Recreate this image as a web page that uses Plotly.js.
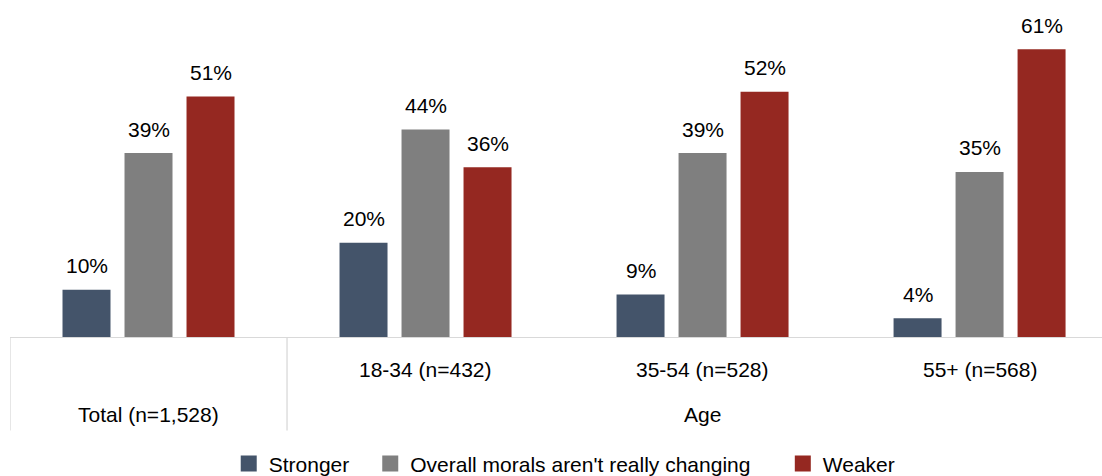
<!DOCTYPE html>
<html>
<head>
<meta charset="utf-8">
<script src="https://cdn.plot.ly/plotly-3.0.1.min.js"></script>
<style>
  html, body { margin: 0; padding: 0; background: #ffffff; }
  #chart { width: 1102px; height: 476px; }
</style>
</head>
<body>
<div id="chart"></div>
<script>
// Groups along the x axis
const categories = ['Total (n=1,528)', '18-34 (n=432)', '35-54 (n=528)', '55+ (n=568)'];
// Labels printed under each group (first row: age bands, second row: group names)
const rowOneLabels = ['', '18-34 (n=432)', '35-54 (n=528)', '55+ (n=568)'];
const rowTwoLabels = [
  { text: 'Total (n=1,528)', at: 0 },
  { text: 'Age', at: 2 }
];

// Series values (%)
const seriesNames = ['Stronger', "Overall morals aren't really changing", 'Weaker'];
const stronger = [10, 20, 9, 4];
const notChanging = [39, 44, 39, 35];
const weaker = [51, 36, 52, 61];
const seriesValues = [stronger, notChanging, weaker];
const seriesColors = ['#44546A', '#7F7F7F', '#952821'];

const FONT = 'Liberation Sans, Arial, sans-serif';
const FONT_SIZE = 21;
const GRID = '#D9D9D9';

// One legend per series so each key sits at its own spot along the bottom
const legendIds = ['legend', 'legend2', 'legend3'];
const legendX = [0.2003, 0.3299, 0.7077];

const traces = seriesValues.map((vals, s) => ({
  type: 'bar',
  name: seriesNames[s],
  x: categories,
  y: vals,
  marker: { color: seriesColors[s] },
  showlegend: false,
  hoverinfo: 'skip'
}));

// Legend keys: square swatches in each series colour
seriesNames.forEach((name, s) => {
  traces.push({
    type: 'scatter',
    mode: 'markers',
    name: name,
    x: [null],
    y: [null],
    marker: { symbol: 'square', size: 16, color: seriesColors[s] },
    legend: legendIds[s],
    showlegend: true,
    hoverinfo: 'skip'
  });
});

// Value labels above each bar, offset to each bar's slot within the group
const SLOT = 62;
const annotations = [];
seriesValues.forEach((vals, s) => {
  vals.forEach((v, i) => {
    annotations.push({
      x: categories[i], y: v, xref: 'x', yref: 'y',
      text: v + '%', showarrow: false,
      xshift: (s - 1) * SLOT, yshift: 24,
      yanchor: 'middle',
      font: { family: FONT, size: FONT_SIZE, color: '#000000' }
    });
  });
});

// Category table text below the axis
rowOneLabels.forEach((t, i) => {
  if (!t) return;
  annotations.push({
    x: categories[i], y: -0.102, xref: 'x', yref: 'paper',
    text: t, showarrow: false, yanchor: 'middle',
    font: { family: FONT, size: FONT_SIZE, color: '#000000' }
  });
});
rowTwoLabels.forEach(r => {
  annotations.push({
    x: categories[r.at], y: -0.244, xref: 'x', yref: 'paper',
    text: r.text, showarrow: false, yanchor: 'middle',
    font: { family: FONT, size: FONT_SIZE, color: '#000000' }
  });
});

// Vertical separators of the category table
const shapes = [-0.5, 0.5].map(xv => ({
  type: 'line', xref: 'x', yref: 'paper',
  x0: xv, x1: xv, y0: 0, y1: -0.295,
  line: { color: GRID, width: 1.3 }
}));

const layout = {
  width: 1102,
  height: 476,
  margin: { l: 10, r: 0, t: 20, b: 138.5, autoexpand: false },
  paper_bgcolor: '#ffffff',
  plot_bgcolor: '#ffffff',
  barmode: 'group',
  bargap: 0.3285,
  bargroupgap: 0.226,
  font: { family: FONT, size: FONT_SIZE, color: '#000000' },
  xaxis: {
    type: 'category',
    range: [-0.5, 3.442],
    showticklabels: false,
    ticks: '',
    showgrid: false,
    zeroline: false,
    showline: true,
    linecolor: GRID,
    linewidth: 1.3,
    fixedrange: true
  },
  yaxis: {
    range: [0, 67.2],
    visible: false,
    showgrid: false,
    zeroline: false,
    fixedrange: true
  },
  showlegend: true,
  annotations: annotations,
  shapes: shapes
};

legendIds.forEach((id, s) => {
  layout[id] = {
    orientation: 'h',
    x: legendX[s], xanchor: 'left',
    y: -0.40, yanchor: 'middle',
    bgcolor: 'rgba(0,0,0,0)',
    font: { family: FONT, size: FONT_SIZE, color: '#000000' },
    itemwidth: 30
  };
});

Plotly.newPlot('chart', traces, layout, { displayModeBar: false, staticPlot: true });
</script>
</body>
</html>
